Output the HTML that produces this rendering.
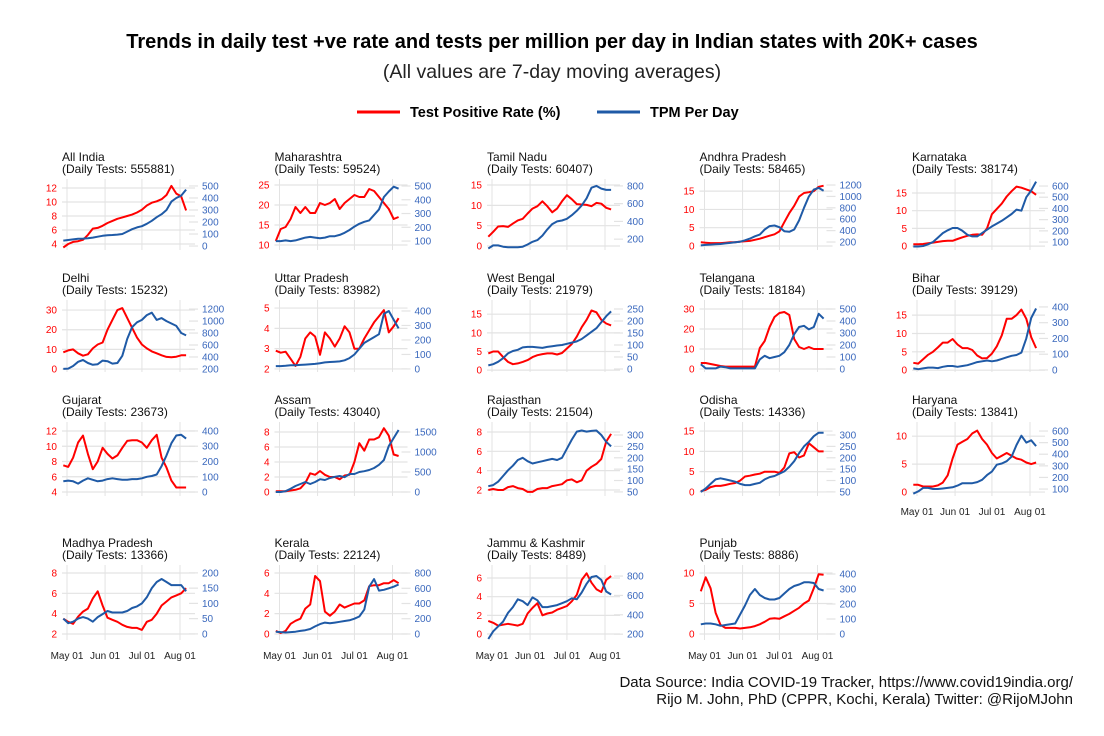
<!DOCTYPE html>
<html><head><meta charset="utf-8"><style>
body{margin:0;background:#fff;}
svg{display:block;font-family:"Liberation Sans",Arial,sans-serif;}
</style></head><body>
<svg id="chart" width="1104" height="736" viewBox="0 0 1104 736">
<text x="552" y="48" text-anchor="middle" font-size="20" font-weight="bold" fill="#000">Trends in daily test +ve rate and tests per million per day in Indian states with 20K+ cases</text>
<text x="552" y="78" text-anchor="middle" font-size="19.5" fill="#222">(All values are 7-day moving averages)</text>
<g>
<line x1="357" y1="112" x2="400" y2="112" stroke="#ff0000" stroke-width="3"/>
<text x="410" y="117" font-size="14.5" font-weight="bold">Test Positive Rate (%)</text>
<line x1="597" y1="112" x2="640" y2="112" stroke="#1f5aa6" stroke-width="3"/>
<text x="650" y="117" font-size="14.5" font-weight="bold">TPM Per Day</text>
</g>
<text x="1073" y="687" text-anchor="end" font-size="15" fill="#111">Data Source: India COVID-19 Tracker, https://www.covid19india.org/</text>
<text x="1073" y="704" text-anchor="end" font-size="15" fill="#111">Rijo M. John, PhD (CPPR, Kochi, Kerala) Twitter: @RijoMJohn</text>
<g id="panels"></g>
</svg>
<script>
const days=[-3,1,5,9,13,17,21,25,29,33,37,41,45,49,53,57,61,65,69,73,77,81,85,89,93,97];
const xTickDays=[0,31,61,92];
const xTickLabels=["May 01","Jun 01","Jul 01","Aug 01"];
const names=["All India","Maharashtra","Tamil Nadu","Andhra Pradesh","Karnataka","Delhi","Uttar Pradesh","West Bengal","Telangana","Bihar","Gujarat","Assam","Rajasthan","Odisha","Haryana","Madhya Pradesh","Kerala","Jammu & Kashmir","Punjab"];
const dailyTests=[555881,59524,60407,58465,38174,15232,83982,21979,18184,39129,23673,43040,21504,14336,13841,13366,22124,8489,8886];
const leftTicks=[[4,6,8,10,12],[10,15,20,25],[0,5,10,15],[0,5,10,15],[0,5,10,15],[0,10,20,30],[2,3,4,5],[0,5,10,15],[0,10,20,30],[0,5,10,15],[4,6,8,10,12],[0,2,4,6,8],[2,4,6,8],[0,5,10,15],[0,5,10],[2,4,6,8],[0,2,4,6],[0,2,4,6],[0,5,10]];
const rightTicks=[[0,100,200,300,400,500],[100,200,300,400,500],[200,400,600,800],[200,400,600,800,1000,1200],[100,200,300,400,500,600],[200,400,600,800,1000,1200],[0,100,200,300,400],[0,50,100,150,200,250],[0,100,200,300,400,500],[0,100,200,300,400],[0,100,200,300,400],[0,500,1000,1500],[50,100,150,200,250,300],[50,100,150,200,250,300],[100,200,300,400,500,600],[0,50,100,150,200],[0,200,400,600,800],[200,400,600,800],[0,100,200,300,400]];
const leftDomains=[[3.14,12.86],[8.75,25.75],[-0.98,15.74],[-1.1,17.5],[-1.1,18.1],[-1.5,33.6],[1.85,5.25],[-0.5,18],[-1.5,33],[-0.5,18.3],[3.48,12.79],[-0.53,8.93],[1.38,8.72],[-1,16.5],[-0.7,12],[1.41,8.49],[-0.59,6.49],[-0.64,7.07],[-0.98,10.82]];
const rightDomains=[[-33,533],[35,529],[78,844],[60,1253],[29,636],[149,1302],[-21,455],[-12.5,275],[-25,550],[-13,425],[-26,439],[-100,1675],[32,344],[32,344],[40,652],[-20,216],[-79,866],[140,883],[-40,440]];
const tpr=[
[3.5,4.0,4.3,4.4,4.6,5.3,6.2,6.3,6.6,7.0,7.3,7.6,7.8,8.0,8.2,8.5,8.9,9.5,9.9,10.1,10.4,11.0,12.3,11.2,10.8,8.8],
[11,14,14.5,16.5,19.5,18,19.5,18,18,20.5,20,20.5,21.5,19,20.5,21.5,22.5,22,22,24,23.5,22,20.5,19,16.5,17],
[2.3,3.5,4.8,4.9,4.7,5.5,6.3,6.7,8,9.2,9.8,11,9.8,8.3,9.2,11,12.5,11.5,10.3,10.2,10.1,9.8,10.6,10.4,9.4,9],
[1,0.9,0.8,0.8,0.8,0.9,1,1,1.2,1.3,1.4,1.7,2,2.4,2.8,3.2,4,6.5,9,11,13.5,14.5,14.7,15,16.2,16.5],
[0.5,0.5,0.6,0.8,1,1.2,1.4,1.5,1.5,2,2.5,2.9,3.2,3.3,3.2,5,9,10.5,12,14,15.5,16.8,16.5,16,15.5,14.5],
[8.5,9.5,10,8,6.8,7.5,10.5,12.5,13.5,20,25,30,31,26,21,16,12.5,10.5,9,8,7,6.2,6,6.3,7,7],
[2.9,2.8,2.85,2.5,2.15,2.6,3.5,3.8,3.6,2.7,3.8,3.5,3.1,3.5,4.1,3.8,3.0,3.0,3.5,3.9,4.3,4.6,4.9,3.8,4.1,4.5],
[4.5,5,5,3.5,2.2,1.6,1.8,2.2,2.7,3.5,4,4.3,4.5,4.5,4.2,4.6,5.8,7,9,11.5,13.5,16,15.5,13.5,12.5,12],
[3,3,2.5,2,1.5,1.2,1.2,1.2,1.2,1.2,1.2,1.2,10.5,14,21,26,28,28.5,27,15,11,10,11,10,10,10],
[2,1.8,3,4.2,5,6.2,7.5,7.5,8.5,7,6,6,5.5,4,3.2,3.3,4.5,6.5,9.5,14,14,15,16.5,14,9,6],
[7.5,7.3,8.5,10.5,11.4,9,7,8,9.8,9,8.4,8.8,9.8,10.7,10.8,10.8,10.5,9.8,10.8,11.5,8.5,7.2,5.5,4.6,4.6,4.6],
[0.1,0.1,0.1,0.2,0.3,0.5,1.2,2.5,2.3,2.8,2.3,2,2,1.7,2.2,2.3,4,6.5,5.5,7,7,7.3,8.5,7.5,5,4.8],
[2,2.1,2,2,2.3,2.4,2.2,2.1,1.8,1.8,2.1,2.2,2.2,2.4,2.5,2.6,3,3.1,2.8,3,4,4.4,4.7,5.2,7,7.8],
[0.2,0.5,1.2,1.5,1.5,1.7,2,2.2,2.8,3.8,4,4.3,4.5,5,5,5,4.7,6,9.5,9.8,8.5,9,12,11,10,10],
[1.3,1.3,1,1,1,1.2,1.7,3,6,8.5,9,9.5,10.5,11,9.5,8.5,7,6,6.5,7,6.5,6,5.8,5.3,5,5.3],
[3.5,3.2,3,3.7,4.2,4.5,5.5,6.2,4.8,3.6,3.4,3.2,2.9,2.7,2.6,2.6,2.4,3.2,3.4,4,4.8,5.2,5.6,5.8,6,6.5],
[0.3,0.1,0.3,1,1.3,1.5,2.5,2.9,5.7,5.2,2.2,1.8,2.2,2.9,2.6,2.8,3,3,3.3,4.7,4.8,4.8,5,5,5.3,5],
[1.4,1.2,0.9,1,1.1,1,0.9,1.1,2.2,2.8,3.3,2,2.2,2.3,2.6,2.8,3,3.5,4.2,5.8,6.5,5.5,4.8,4.5,5.8,6.2],
[7,9.3,7.5,3.5,1.5,1,1,1,0.9,1,1.1,1.3,1.6,2,2.5,2.6,2.5,2.9,3.3,3.8,4.3,5,5.5,7.5,9.8,9.7]];
const tpm=[
[45,50,55,60,62,65,70,78,85,90,92,95,100,120,140,155,165,185,210,240,265,300,370,400,420,470],
[100,100,105,100,105,115,125,130,125,120,125,135,135,145,160,180,205,225,240,250,290,330,420,460,495,480],
[95,130,130,115,110,110,110,115,140,170,190,240,310,370,400,410,430,470,520,580,660,780,800,770,755,755],
[140,150,155,160,165,175,185,195,205,230,260,300,330,420,480,490,460,390,380,420,580,800,1000,1120,1150,1100],
[60,60,65,80,100,140,180,205,225,225,200,165,150,150,180,210,240,265,290,320,350,390,380,500,560,640],
[200,205,250,320,350,300,270,280,340,330,290,300,420,700,900,980,1020,1100,1140,1020,1050,1000,960,920,800,760],
[20,20,22,25,25,28,30,33,35,40,45,48,50,52,60,75,100,140,180,200,220,240,380,400,340,280],
[15,20,30,45,65,75,80,90,92,92,90,88,92,95,98,100,105,110,115,125,140,155,170,195,220,240],
[40,5,5,5,20,15,5,5,5,5,5,5,80,110,90,100,110,140,200,290,350,360,330,350,460,420],
[10,5,10,15,15,12,20,25,25,20,25,30,40,50,55,60,55,60,70,80,90,95,110,200,330,390],
[70,75,70,55,75,90,80,70,75,85,90,85,80,80,85,85,90,100,105,115,170,240,320,370,375,350],
[0,0,20,80,150,200,250,200,250,320,300,350,380,400,370,450,450,500,520,550,600,680,800,1150,1350,1550],
[75,80,95,120,145,165,190,200,185,175,180,185,190,195,190,200,240,280,315,320,315,318,320,300,270,250],
[50,65,85,105,110,105,100,95,85,80,80,85,90,105,115,120,130,140,160,185,220,250,270,295,310,310],
[60,80,110,110,100,100,105,110,115,130,150,150,150,160,180,220,250,310,320,340,380,480,560,500,520,470],
[50,35,40,50,55,50,40,55,65,75,70,70,70,75,85,90,100,120,150,170,180,170,160,160,160,140],
[30,25,20,25,30,40,50,65,100,130,150,140,150,160,170,180,200,230,320,620,720,570,580,600,620,650],
[150,230,280,330,420,480,560,540,500,580,550,480,480,490,500,520,540,570,560,630,720,790,800,760,640,610],
[65,70,70,65,55,60,65,70,130,190,260,300,260,240,230,230,240,270,300,320,330,345,345,340,300,290]];

const NS="http://www.w3.org/2000/svg";
const root=document.getElementById("panels");
const rowTop=[182,303,425,568];
const rowH=[68,69,71,72];
function mk(tag,attrs,parent){const e=document.createElementNS(NS,tag);for(const k in attrs)e.setAttribute(k,attrs[k]);parent.appendChild(e);return e;}
function slug(s){return s.toLowerCase().replace(/&/g,"and").replace(/[^a-z0-9]+/g,"-");}
names.forEach((nm,i)=>{
  const r=Math.floor(i/5),c=i%5;
  const x0=67+212.5*c;
  const T=rowTop[r],B=T+rowH[r];
  const xs=d=>x0+d*113/92;
  const ly=v=>B-(v-leftDomains[i][0])/(leftDomains[i][1]-leftDomains[i][0])*(B-T);
  const ry=v=>B-(v-rightDomains[i][0])/(rightDomains[i][1]-rightDomains[i][0])*(B-T);
  const g=mk("g",{},root);
  
  
  const t1=mk("text",{x:x0-5,y:T-21,"font-size":12,fill:"#111"},g);t1.textContent=nm;
  
  
  const t2=mk("text",{x:x0-5,y:T-9,"font-size":12,fill:"#111","xml:space":"preserve"},g);t2.textContent=" (Daily Tests: "+dailyTests[i]+")";
  
  
  xTickDays.forEach(d=>{const l=mk("line",{x1:xs(d),x2:xs(d),y1:T-3,y2:B,stroke:"#e3e3e3","stroke-width":1},g);
    
    });
  leftTicks[i].forEach(v=>{const y=ly(v);
    const l=mk("line",{x1:x0-5,x2:x0+128,y1:y,y2:y,stroke:"#e3e3e3","stroke-width":1.2},g);
    
    
    const tx=mk("text",{x:x0-10,y:y+3.5,"text-anchor":"end","font-size":10,fill:"#ff0000"},g);tx.textContent=v;
    
    });
  rightTicks[i].forEach(v=>{const y=ry(v);
    const l=mk("line",{x1:x0+122,x2:x0+131,y1:y,y2:y,stroke:"#e3e3e3","stroke-width":1.2},g);
    
    
    const tx=mk("text",{x:x0+135,y:y+3.5,"font-size":10,fill:"#3a68bd"},g);tx.textContent=v;
    
    });
  if(r===3||i===14){xTickDays.forEach((d,k)=>{const tx=mk("text",{x:xs(d),y:B+19,"text-anchor":"middle","font-size":10,fill:"#222"},g);tx.textContent=xTickLabels[k];
    
    });}
  const pr=mk("polyline",{points:days.map((d,k)=>xs(d).toFixed(1)+","+ly(tpr[i][k]).toFixed(1)).join(" "),fill:"none",stroke:"#ff0000","stroke-width":2,"stroke-linejoin":"round"},g);
  
  
  const pb=mk("polyline",{points:days.map((d,k)=>xs(d).toFixed(1)+","+ry(tpm[i][k]).toFixed(1)).join(" "),fill:"none",stroke:"#1f5aa6","stroke-width":2,"stroke-linejoin":"round"},g);
  
  
});
</script>
</body></html>
